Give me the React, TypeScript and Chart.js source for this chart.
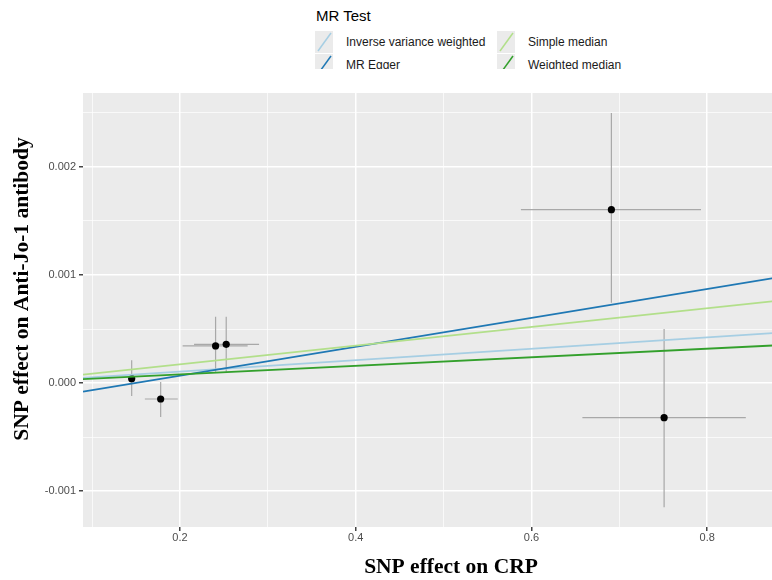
import React, { useEffect, useRef } from 'react';
import { Chart, registerables } from 'chart.js';

Chart.register(...registerables);

// SNP-level estimates (x: effect on CRP, y: effect on Anti-Jo-1 antibody)
const snpX = [0.145, 0.178, 0.2405, 0.2526, 0.691, 0.751];
const snpY = [0.00004, -0.000148, 0.000343, 0.000358, 0.001605, -0.000321];
const snpXLow = [0.141, 0.16, 0.203, 0.216, 0.588, 0.658];
const snpXHigh = [0.149, 0.1975, 0.277, 0.29, 0.793, 0.844];
const snpYLow = [-0.00012, -0.000315, 0.000105, 0.000105, 0.000743, -0.00115];
const snpYHigh = [0.00021, 0.00001, 0.000614, 0.000614, 0.0025, 0.0005];

// MR methods
const methods = ['Inverse variance weighted', 'MR Egger', 'Simple median', 'Weighted median'];
const methodIntercepts = [0, -0.0002, 0, 0];
const methodSlopes = [0.000529, 0.001337, 0.000866, 0.000397];
const methodColors = ['#A6CEE3', '#1F78B4', '#B2DF8A', '#33A02C'];

// Axes
const xMajorTicks = [0.2, 0.4, 0.6, 0.8];
const xTickLabels = ['0.2', '0.4', '0.6', '0.8'];
const xMinorTicks = [0.1, 0.3, 0.5, 0.7, 0.9];
const yMajorTicks = [-0.001, 0, 0.001, 0.002];
const yTickLabels = ['-0.001', '0.000', '0.001', '0.002'];
const yMinorTicks = [-0.0005, 0.0005, 0.0015, 0.0025];
const xRange = [0.0896, 0.9273];
const yRange = [-0.001333, 0.002685];

const xTitle = 'SNP effect on CRP';
const yTitle = 'SNP effect on Anti-Jo-1 antibody';
const legendTitle = 'MR Test';

const findIndex = (list: number[], v: number) =>
  list.findIndex((t) => Math.abs(t - v) < 1e-9);

const TITLE_FONT = '"Liberation Serif", "Times New Roman", serif';
const SANS = '"Liberation Sans", Arial, Helvetica, sans-serif';

const panelBgPlugin = {
  id: 'panelBg',
  beforeDraw(chart: any) {
    const { ctx, chartArea } = chart;
    ctx.save();
    ctx.fillStyle = '#EBEBEB';
    ctx.fillRect(chartArea.left, chartArea.top, chartArea.right - chartArea.left, chartArea.bottom - chartArea.top);
    ctx.restore();
  },
};

const yTitlePlugin = {
  id: 'yTitleDraw',
  afterDraw(chart: any) {
    const ctx = chart.ctx;
    ctx.save();
    ctx.translate(22, 289);
    ctx.rotate(-Math.PI / 2);
    ctx.font = 'bold 21.5px ' + TITLE_FONT;
    ctx.fillStyle = '#000';
    ctx.textAlign = 'center';
    ctx.textBaseline = 'middle';
    ctx.fillText(yTitle, 0, 0);
    ctx.restore();
  },
};

function makeTicks(major: number[], minor: number[]) {
  return [...major, ...minor].sort((a, b) => a - b).map((v) => ({ value: v }));
}

export default function App() {
  const canvasRef = useRef<HTMLCanvasElement | null>(null);

  useEffect(() => {
    document.body.style.margin = '0';
    const canvas = canvasRef.current;
    if (!canvas) return;

    const lineDatasets = methods.map((name, i) => ({
      type: 'line' as const,
      label: name,
      data: xRange.map((x) => ({ x, y: methodIntercepts[i] + methodSlopes[i] * x })),
      borderColor: methodColors[i],
      backgroundColor: methodColors[i],
      borderWidth: 1.8,
      pointRadius: 0,
      fill: false,
      order: 4 - i,
    }));

    const vBars: any[] = [];
    const hBars: any[] = [];
    snpX.forEach((x, i) => {
      vBars.push({ x, y: snpYLow[i] }, { x, y: snpYHigh[i] }, { x: NaN, y: NaN });
      hBars.push({ x: snpXLow[i], y: snpY[i] }, { x: snpXHigh[i], y: snpY[i] }, { x: NaN, y: NaN });
    });

    const chart = new Chart(canvas, {
      type: 'scatter',
      data: {
        datasets: [
          ...lineDatasets,
          {
            type: 'scatter',
            label: 'SNPs',
            data: snpX.map((x, i) => ({ x, y: snpY[i] })),
            backgroundColor: '#000',
            borderWidth: 0,
            pointRadius: 3.6,
            order: 10,
          },
          {
            type: 'line',
            label: 'vertical error',
            data: vBars,
            borderColor: '#A8A8A8',
            borderWidth: 1.2,
            pointRadius: 0,
            spanGaps: false,
            order: 11,
          },
          {
            type: 'line',
            label: 'horizontal error',
            data: hBars,
            borderColor: '#A8A8A8',
            borderWidth: 1.2,
            pointRadius: 0,
            spanGaps: false,
            order: 12,
          },
        ] as any,
      },
      options: {
        animation: false,
        responsive: false,
        devicePixelRatio: 1,
        layout: { padding: { top: 93, left: 0, right: 0, bottom: 0 } },
        plugins: {
          legend: { display: false },
          tooltip: { enabled: false },
          title: { display: false },
        },
        scales: {
          x: {
            type: 'linear',
            min: xRange[0],
            max: xRange[1],
            afterFit: (scale: any) => {
              scale.height = 53;
            },
            afterBuildTicks: (scale: any) => {
              scale.ticks = makeTicks(xMajorTicks, xMinorTicks);
            },
            border: { display: false },
            grid: {
              color: '#FFFFFF',
              lineWidth: (c: any) => (findIndex(xMajorTicks, c.tick.value) >= 0 ? 1.5 : 0.7),
              tickColor: (c: any) => (findIndex(xMajorTicks, c.tick.value) >= 0 ? '#444444' : 'rgba(0,0,0,0)'),
              tickLength: 4,
              drawTicks: true,
            },
            ticks: {
              autoSkip: false,
              maxRotation: 0,
              padding: 0,
              color: '#4D4D4D',
              font: { family: SANS, size: 11 },
              callback: (v: any) => {
                const k = findIndex(xMajorTicks, Number(v));
                return k >= 0 ? xTickLabels[k] : '';
              },
            },
            title: {
              display: true,
              text: xTitle,
              color: '#000',
              font: { family: TITLE_FONT, size: 21.5, weight: 'bold' },
              padding: { top: 9, bottom: 0 },
            },
          },
          y: {
            type: 'linear',
            min: yRange[0],
            max: yRange[1],
            afterFit: (scale: any) => {
              scale.width = 83;
            },
            afterBuildTicks: (scale: any) => {
              scale.ticks = makeTicks(yMajorTicks, yMinorTicks);
            },
            border: { display: false },
            grid: {
              color: '#FFFFFF',
              lineWidth: (c: any) => (findIndex(yMajorTicks, c.tick.value) >= 0 ? 1.5 : 0.7),
              tickColor: (c: any) => (findIndex(yMajorTicks, c.tick.value) >= 0 ? '#444444' : 'rgba(0,0,0,0)'),
              tickLength: 4,
              drawTicks: true,
            },
            ticks: {
              autoSkip: false,
              padding: 3,
              color: '#4D4D4D',
              font: { family: SANS, size: 11 },
              callback: (v: any) => {
                const k = findIndex(yMajorTicks, Number(v));
                return k >= 0 ? yTickLabels[k] : '';
              },
            },
            title: { display: false },
          },
        },
      },
      plugins: [panelBgPlugin, yTitlePlugin],
    });

    return () => chart.destroy();
  }, []);

  return (
    <div
      style={{
        position: 'fixed',
        left: 0,
        top: 0,
        width: 772,
        height: 580,
        overflow: 'hidden',
        background: '#fff',
      }}
    >
      <canvas ref={canvasRef} width={823} height={580} style={{ position: 'absolute', left: 0, top: 0, width: 823, height: 580 }} />
      <div
        style={{
          position: 'absolute',
          left: 0,
          top: 0,
          width: 772,
          height: 69,
          overflow: 'hidden',
          background: '#fff',
          fontFamily: SANS,
        }}
      >
        <div style={{ position: 'absolute', left: 316, top: 8, fontSize: 15, lineHeight: '15px', color: '#000' }}>
          {legendTitle}
        </div>
        {methods.map((name, i) => {
          const col = Math.floor(i / 2);
          const row = i % 2;
          const left = col === 0 ? 315 : 497;
          const top = 31 + row * 22.5;
          return (
            <div
              key={name}
              style={{ position: 'absolute', left, top, height: 22, display: 'flex', alignItems: 'center', whiteSpace: 'nowrap' }}
            >
              <svg width={18} height={22} style={{ display: 'block' }}>
                <rect x={0} y={0} width={18} height={22} fill="#EBEBEB" />
                <line x1={3} y1={20} x2={16} y2={2} stroke={methodColors[i]} strokeWidth={1.5} />
              </svg>
              <span style={{ marginLeft: 13, fontSize: 12, lineHeight: '22px', color: '#1A1A1A' }}>{name}</span>
            </div>
          );
        })}
      </div>
    </div>
  );
}
